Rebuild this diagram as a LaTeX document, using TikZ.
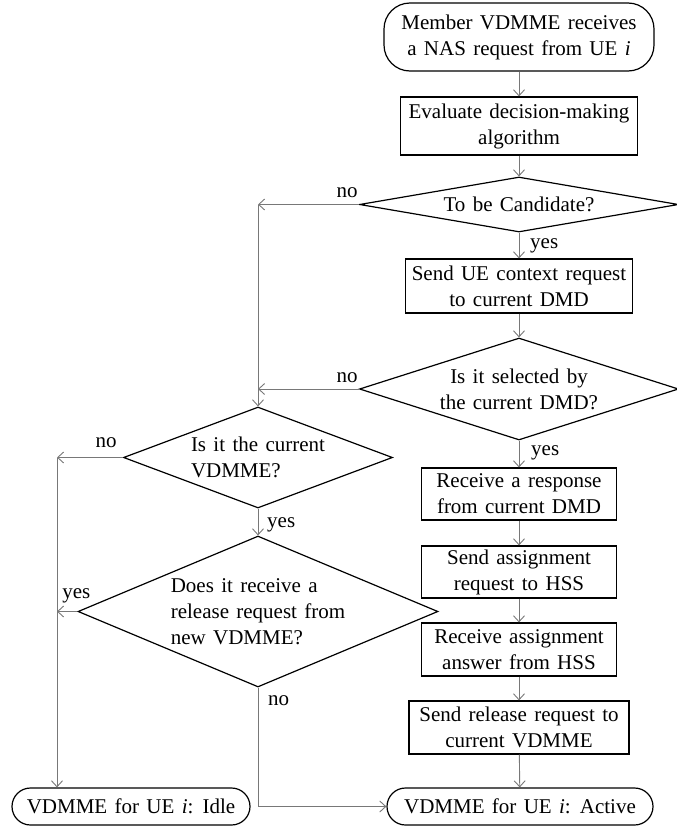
\documentclass[tikz,border=0pt]{standalone}
\usepackage{fontspec}
\setmainfont{Liberation Serif}[WordSpace=1.4]
\usetikzlibrary{shapes.geometric,shapes.misc,arrows.meta,calc}
\definecolor{linegray}{RGB}{120,120,120}
\begin{document}
\begin{tikzpicture}[x=1pt,y=-1pt,
  every node/.style={font=\fontsize{21}{26}\selectfont},
  box/.style={draw, line width=1.2pt, rectangle, inner sep=0pt, align=center},
  term/.style={draw, line width=1.2pt, rounded rectangle, inner sep=0pt, align=center},
  tallterm/.style={draw, line width=1.2pt, rectangle, rounded corners=26pt, inner sep=0pt, align=center},
  dec/.style={draw, line width=1.2pt, diamond, inner sep=0pt},
  flow/.style={draw=linegray, line width=0.9pt, -{Straight Barb[length=6pt,width=11pt]}},
  plain/.style={draw=linegray, line width=0.9pt},
  lbl/.style={inner sep=0pt}]
\useasboundingbox (0,0) rectangle (677,827);

% right column
\node[tallterm, minimum width=270pt, minimum height=68pt] (start) at (519,37)
  {Member VDMME receives\\a NAS request from UE \textit{i}};
\node[box, minimum width=237pt, minimum height=58pt] (eval) at (519,126)
  {Evaluate decision-making\\algorithm};
\node[dec, aspect=5.8, minimum width=319pt, minimum height=55pt] (cand) at (519,204.5)
  {To be Candidate?};
\node[box, minimum width=227pt, minimum height=54pt] (ctx) at (519,286)
  {Send UE context request\\to current DMD};
\node[dec, aspect=3.13, minimum width=319pt, minimum height=102pt, align=center] (sel) at (519,389)
  {Is it selected by\\the current DMD?};
\node[box, minimum width=195pt, minimum height=52pt] (resp) at (519,494)
  {Receive a response\\from current DMD};
\node[box, minimum width=195pt, minimum height=52pt] (assign) at (519,572)
  {Send assignment\\request to HSS};
\node[box, minimum width=195pt, minimum height=53pt] (answer) at (519,649.5)
  {Receive assignment\\answer from HSS};
\node[box, minimum width=220pt, minimum height=53pt] (release) at (519,727.5)
  {Send release request to\\current VDMME};
\node[term, minimum width=266pt, minimum height=37pt] (active) at (520,806.5)
  {VDMME for UE \textit{i}: Active};

% left column
\node[dec, aspect=2.66, minimum width=269pt, minimum height=101pt, align=left] (cur) at (258,457.5)
  {Is it the current\\VDMME?};
\node[dec, aspect=2.38, minimum width=360pt, minimum height=151pt, align=left] (rel) at (258,611.5)
  {Does it receive a\\release request from\\new VDMME?};
\node[term, minimum width=238pt, minimum height=37pt] (idle) at (131,806.5)
  {VDMME for UE \textit{i}: Idle};

% junctions on the left-hand verticals
\coordinate (j1) at (cur.north |- cand.west);
\coordinate (j2) at (cur.north |- sel.west);
\coordinate (j3) at (57,457.5);
\coordinate (j4) at (j3 |- rel.west);
\coordinate (j5) at (j3 |- idle.north);
\coordinate (j6) at (rel.south |- active.west);

% main sequence
\draw[flow] (start) -- (eval);
\draw[flow] (eval) -- (cand);
\draw[flow] (cand) -- (ctx);
\draw[flow] (ctx) -- (sel);
\draw[flow] (sel) -- (resp);
\draw[flow] (resp) -- (assign);
\draw[flow] (assign) -- (answer);
\draw[flow] (answer) -- (release);
\draw[flow] (release) -- (active);

% branches
\draw[flow] (cand.west) -- (j1);
\draw[flow] (j1) -- (cur.north);
\draw[flow] (sel.west) -- (j2);
\draw[flow] (cur.west) -- (j3);
\draw[flow] (j3) -- (j5);
\draw[flow] (cur.south) -- (rel.north);
\draw[flow] (rel.west) -- (j4);
\draw[plain] (rel.south) -- (j6);
\draw[flow] (j6) -- (active.west);

% branch labels
\node[lbl, anchor=base east] at ($(cand.west)+(-1,-7)$) {no};
\node[lbl, anchor=north west] at ($(cand.south)+(11,6)$) {yes};
\node[lbl, anchor=base east] at ($(sel.west)+(-1,-7)$) {no};
\node[lbl, anchor=north west] at ($(sel.south)+(12,5)$) {yes};
\node[lbl, anchor=base east] at ($(cur.west)+(-6,-10)$) {no};
\node[lbl, anchor=north west] at ($(cur.south)+(9,9)$) {yes};
\node[lbl, anchor=base] at ($(rel.west)+(-1,-13)$) {yes};
\node[lbl, anchor=north west] at ($(rel.south)+(10,8)$) {no};
\end{tikzpicture}
\end{document}
